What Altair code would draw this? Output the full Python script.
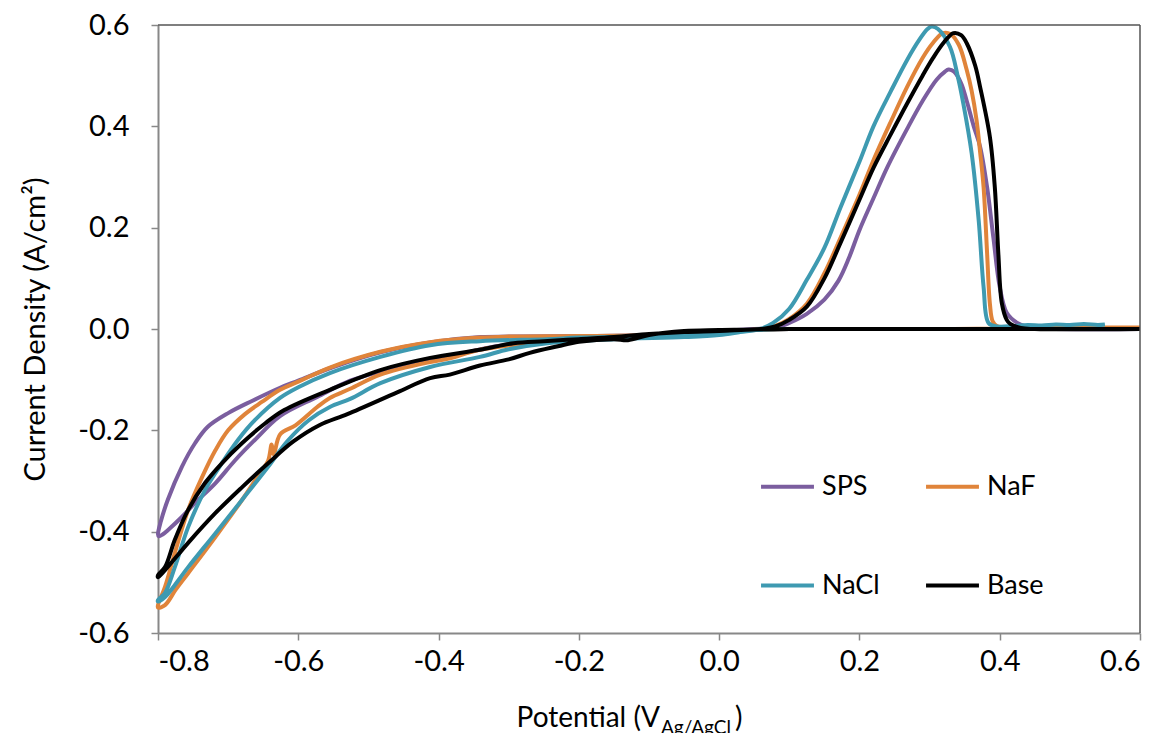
import altair as alt
import pandas as pd

# legend is laid out column by column, so this order gives rows SPS/NaF and NaCl/Base
LEGEND_ORDER = ["SPS", "NaCl", "NaF", "Base"]
LEGEND_COLORS = ["#7b5e9f", "#3e9ab1", "#e0843a", "#000000"]

# ---- SPS (one closed CV loop, in sweep order) ----
SPS_V = [0.60, 0.50, 0.45, 0.40, 0.30, 0.20, 0.10, 0.05,
         0.0, -0.1, -0.2, -0.3, -0.34, -0.41, -0.48, -0.55, -0.60, -0.626, -0.666, -0.70, -0.729, -0.747, -0.766, -0.786, -0.796, -0.80,
         -0.799, -0.793, -0.786, -0.766, -0.747, -0.718, -0.69, -0.662, -0.626, -0.573, -0.526, -0.479, -0.431, -0.384, -0.34, -0.3, -0.25, -0.2, -0.1, 0.0, 0.05,
         0.08, 0.10, 0.125, 0.15, 0.17, 0.185, 0.20, 0.22, 0.24, 0.268, 0.29, 0.31, 0.322, 0.327, 0.335, 0.345, 0.353, 0.363, 0.372, 0.382, 0.391, 0.40, 0.41, 0.425, 0.44, 0.46, 0.60]
SPS_I = [0.0, 0.0, 0.0, 0.0, 0.0, 0.0, 0.0, -0.002,
         -0.005, -0.012, -0.014, -0.015, -0.016, -0.026, -0.045, -0.075, -0.102, -0.116, -0.142, -0.166, -0.193, -0.225, -0.272, -0.337, -0.38, -0.405,
         -0.409, -0.405, -0.397, -0.371, -0.343, -0.304, -0.259, -0.219, -0.172, -0.134, -0.102, -0.083, -0.068, -0.055, -0.04, -0.03, -0.022, -0.018, -0.012, -0.004, 0.0,
         0.002, 0.012, 0.03, 0.058, 0.095, 0.14, 0.195, 0.258, 0.32, 0.395, 0.45, 0.492, 0.508, 0.512, 0.508, 0.485, 0.45, 0.40, 0.36, 0.28, 0.18, 0.083, 0.032, 0.012, 0.004, 0.001, 0.0]

# ---- NaF ----
NAF_V = [0.60, 0.50, 0.45, 0.40, 0.30, 0.20, 0.10, 0.05,
         0.0, -0.1, -0.2, -0.3, -0.341, -0.412, -0.483, -0.555, -0.60, -0.626, -0.652, -0.676, -0.70, -0.718, -0.737, -0.757, -0.776, -0.79, -0.80,
         -0.80, -0.79, -0.775, -0.757, -0.718, -0.68, -0.655, -0.643, -0.638, -0.635, -0.626, -0.604, -0.573, -0.555, -0.526, -0.483, -0.412, -0.384, -0.341, -0.245, -0.15, -0.05, 0.0, 0.06,
         0.08, 0.10, 0.125, 0.15, 0.173, 0.20, 0.22, 0.245, 0.268, 0.29, 0.305, 0.319, 0.33, 0.342, 0.353, 0.36, 0.367, 0.372, 0.377, 0.382, 0.386, 0.39, 0.396, 0.42, 0.60]
NAF_I = [0.003, 0.003, 0.002, 0.001, 0.0, 0.0, 0.0, -0.002,
         -0.005, -0.012, -0.014, -0.015, -0.017, -0.026, -0.045, -0.076, -0.104, -0.12, -0.144, -0.168, -0.2, -0.239, -0.292, -0.357, -0.442, -0.509, -0.545,
         -0.55, -0.545, -0.515, -0.482, -0.41, -0.337, -0.285, -0.26, -0.228, -0.248, -0.208, -0.19, -0.154, -0.136, -0.118, -0.09, -0.065, -0.058, -0.041, -0.025, -0.018, -0.011, -0.006, 0.0,
         0.006, 0.02, 0.05, 0.11, 0.18, 0.265, 0.333, 0.41, 0.478, 0.535, 0.565, 0.584, 0.582, 0.56, 0.511, 0.47, 0.412, 0.35, 0.28, 0.15, 0.05, 0.015, 0.006, 0.003, 0.003]

# ---- NaCl ----
NACL_V = [0.55, 0.45, 0.40, 0.30, 0.20, 0.10, 0.05,
          0.0, -0.1, -0.2, -0.245, -0.341, -0.412, -0.483, -0.555, -0.60, -0.626, -0.662, -0.686, -0.709, -0.733, -0.757, -0.776, -0.79, -0.80,
          -0.80, -0.79, -0.757, -0.718, -0.68, -0.643, -0.616, -0.585, -0.555, -0.526, -0.483, -0.412, -0.341, -0.3, -0.245, -0.15, -0.05, 0.0, 0.03, 0.058,
          0.077, 0.10, 0.125, 0.15, 0.173, 0.20, 0.22, 0.245, 0.268, 0.285, 0.297, 0.303, 0.312, 0.329, 0.34, 0.348, 0.36, 0.37, 0.377, 0.384, 0.396,
          0.42, 0.44, 0.46, 0.48, 0.50, 0.52, 0.54, 0.55]
NACL_I = [0.0, 0.0, 0.0, 0.0, 0.0, 0.0, -0.002,
          -0.006, -0.014, -0.017, -0.02, -0.024, -0.032, -0.055, -0.087, -0.115, -0.136, -0.18, -0.219, -0.265, -0.318, -0.391, -0.47, -0.521, -0.535,
          -0.538, -0.529, -0.47, -0.403, -0.337, -0.272, -0.222, -0.18, -0.154, -0.138, -0.107, -0.075, -0.055, -0.04, -0.028, -0.02, -0.016, -0.012, -0.006, 0.0,
          0.012, 0.04, 0.097, 0.16, 0.24, 0.33, 0.40, 0.47, 0.531, 0.57, 0.592, 0.597, 0.592, 0.557, 0.50, 0.446, 0.347, 0.215, 0.083, 0.012, 0.005,
          0.006, 0.008, 0.007, 0.009, 0.008, 0.010, 0.008, 0.009]

# ---- Base ----
BASE_V = [0.60, 0.50, 0.40, 0.30, 0.20, 0.10, 0.05,
          0.0, -0.05, -0.1, -0.15, -0.2, -0.25, -0.293, -0.341, -0.412, -0.483, -0.555, -0.62, -0.647, -0.68, -0.709, -0.733, -0.757, -0.776, -0.79, -0.80,
          -0.80, -0.79, -0.757, -0.718, -0.68, -0.643, -0.607, -0.57, -0.53, -0.459, -0.412, -0.384, -0.341, -0.30, -0.27, -0.23, -0.2, -0.15, -0.13, -0.1, -0.05, 0.0, 0.06,
          0.08, 0.10, 0.125, 0.15, 0.173, 0.20, 0.22, 0.245, 0.268, 0.29, 0.305, 0.32, 0.334, 0.345, 0.353, 0.365, 0.372, 0.386, 0.393, 0.398, 0.403, 0.41, 0.415, 0.43, 0.45, 0.60]
BASE_I = [0.0, 0.0, 0.0, 0.0, 0.0, 0.0, -0.001,
          -0.004, -0.006, -0.01, -0.016, -0.02, -0.024, -0.028, -0.041, -0.057, -0.081, -0.12, -0.16, -0.186, -0.225, -0.265, -0.304, -0.357, -0.416, -0.47, -0.486,
          -0.49, -0.476, -0.422, -0.363, -0.312, -0.265, -0.222, -0.19, -0.168, -0.125, -0.097, -0.09, -0.072, -0.06, -0.047, -0.034, -0.025, -0.02, -0.022, -0.012, -0.004, -0.002, 0.0,
          0.005, 0.018, 0.044, 0.10, 0.17, 0.255, 0.318, 0.385, 0.445, 0.50, 0.535, 0.565, 0.584, 0.58, 0.564, 0.52, 0.478, 0.379, 0.28, 0.15, 0.051, 0.018, 0.01, 0.002, 0.0, 0.0]

X_TICKS = [-0.8, -0.6, -0.4, -0.2, 0.0, 0.2, 0.4, 0.6]
Y_TICKS = [-0.6, -0.4, -0.2, 0.0, 0.2, 0.4, 0.6]

rows = []
for name, vs, cs in [("SPS", SPS_V, SPS_I), ("NaF", NAF_V, NAF_I),
                     ("NaCl", NACL_V, NACL_I), ("Base", BASE_V, BASE_I)]:
    for k, (v, c) in enumerate(zip(vs, cs)):
        rows.append({"series": name, "idx": k, "V": v, "I": c})
df = pd.DataFrame(rows)

FONT = "Lato"
W, H = 982, 608
LABEL_EXPR = "(datum.value < -0.0001 ? '-' : '') + format(abs(datum.value), '.1f')"

lines = alt.Chart(df).mark_line(strokeWidth=4, strokeJoin="round", interpolate="catmull-rom").encode(
    x=alt.X("V:Q", scale=alt.Scale(domain=[-0.8, 0.6], nice=False, zero=False),
            axis=alt.Axis(values=X_TICKS, labelExpr=LABEL_EXPR, title=None, grid=False,
                          labelFont=FONT, labelFontSize=29, labelColor="#000000",
                          domainColor="#888888", domainWidth=2, tickColor="#888888",
                          tickWidth=1.5, tickSize=7, labelPadding=7)),
    y=alt.Y("I:Q", scale=alt.Scale(domain=[-0.6, 0.6], nice=False, zero=False),
            axis=alt.Axis(values=Y_TICKS, labelExpr=LABEL_EXPR, title="Current Density (A/cm²)",
                          grid=False, labelFont=FONT, labelFontSize=29, labelColor="#000000",
                          domainColor="#888888", domainWidth=2, tickColor="#888888",
                          tickWidth=1.5, tickSize=7, labelPadding=22,
                          titleFont=FONT, titleFontSize=29, titleFontWeight="normal",
                          titleColor="#000000", titleX=-123, titleY=H / 2,
                          titleAngle=270, titleBaseline="middle", titleAlign="center")),
    color=alt.Color("series:N", scale=alt.Scale(domain=LEGEND_ORDER, range=LEGEND_COLORS),
                    legend=alt.Legend(orient="none", legendX=601, legendY=433, columns=2,
                                      symbolType="stroke", symbolSize=2800, symbolStrokeWidth=4,
                                      labelFont=FONT, labelFontSize=27, labelColor="#000000",
                                      labelOffset=6, columnPadding=38, rowPadding=57,
                                      title=None)),
    order=alt.Order("idx:Q"),
)

frame_top = alt.Chart(pd.DataFrame({"a": [0]})).mark_rule(color="#555555", strokeWidth=1.5).encode(
    x=alt.value(0), x2=alt.value(W), y=alt.value(0))
frame_right = alt.Chart(pd.DataFrame({"a": [0]})).mark_rule(color="#555555", strokeWidth=1.5).encode(
    x=alt.value(W), y=alt.value(0), y2=alt.value(H))

TITLE_MAIN = ["Potential (V"]
TITLE_SUB = ["Ag/AgCl"]
TITLE_END = [")"]

t_main = alt.Chart(pd.DataFrame({"t": TITLE_MAIN})).mark_text(
    font=FONT, fontSize=28, align="right", baseline="alphabetic", color="#000000").encode(
    text="t:N", x=alt.value(502), y=alt.value(702))
t_sub = alt.Chart(pd.DataFrame({"t": TITLE_SUB})).mark_text(
    font=FONT, fontSize=19, align="left", baseline="alphabetic", color="#000000").encode(
    text="t:N", x=alt.value(503), y=alt.value(709))
t_end = alt.Chart(pd.DataFrame({"t": TITLE_END})).mark_text(
    font=FONT, fontSize=28, align="left", baseline="alphabetic", color="#000000").encode(
    text="t:N", x=alt.value(577), y=alt.value(702))

chart = alt.layer(lines, frame_top, frame_right, t_main, t_sub, t_end).properties(
    width=W, height=H,
    padding={"left": 150, "top": 17, "right": 14, "bottom": 100},
    autosize=alt.AutoSizeParams(type="none"),
).configure_view(stroke=None)

chart.save("out.html", embed_options={"renderer": "svg", "actions": False})
